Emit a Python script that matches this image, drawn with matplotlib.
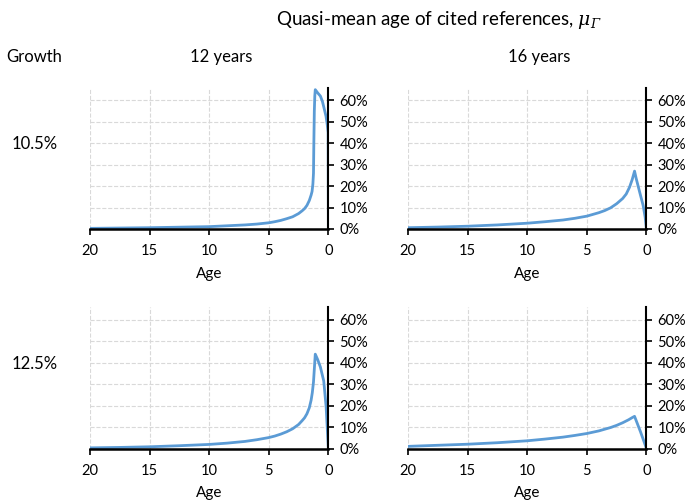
import matplotlib.pyplot as plt
from matplotlib.ticker import FuncFormatter

plt.rcParams['font.family'] = ['Lato', 'DejaVu Sans']
# only the title uses mathtext; make both greek letters italic
plt.rcParams['mathtext.fontset'] = 'custom'
plt.rcParams['mathtext.rm'] = 'DejaVu Serif:italic'
plt.rcParams['mathtext.it'] = 'DejaVu Serif:italic'

# ages (years before citing year) and share of references, in %
ages_12_105 = [20, 15, 10, 8.5, 7, 6, 5, 4.5, 4, 3.5, 3, 2.5, 2.2, 2, 1.8, 1.6, 1.45, 1.37,
               1.3, 1.25, 1.22, 1.18, 1.14, 1.1, 0.9, 0.67, 0.5, 0.39, 0.2, 0.1, 0.02, 0]
vals_12_105 = [0.3, 0.6, 1.1, 1.5, 1.9, 2.3, 2.9, 3.4, 4.0, 4.8, 5.7, 7.2, 8.5, 9.5, 11, 13.3, 15.8, 17.5,
               21, 26, 40, 55, 62, 65, 63.5, 62, 59.5, 57, 52.6, 48.8, 45, 0]

ages_16_105 = [20, 17.5, 15, 12.5, 10, 8.5, 7, 6, 5, 4.5, 4, 3.5, 3, 2.5, 2, 1.7, 1.42, 1.2, 1.0,
               0.86, 0.56, 0.28, 0.11, 0]
vals_16_105 = [0.6, 0.9, 1.3, 1.9, 2.7, 3.4, 4.2, 5.0, 6.0, 6.8, 7.6, 8.6, 9.9, 11.8, 14.2, 16.3, 19.5, 23, 27,
               23.5, 17, 11, 5.5, 0]

ages_12_125 = [20, 17.5, 15, 12.5, 10, 8.5, 7, 6, 5, 4.5, 4, 3.5, 3, 2.5, 2.2, 2, 1.8, 1.6, 1.45,
               1.35, 1.25, 1.18, 1.1, 0.9, 0.67, 0.39, 0.19, 0.08, 0]
vals_12_125 = [0.3, 0.5, 0.8, 1.3, 1.9, 2.5, 3.3, 4.1, 5.1, 5.8, 6.7, 7.8, 9.2, 11.2, 13, 14.3, 16.2, 19, 22.5,
               26, 31, 37, 44, 41.5, 38, 31.5, 19.5, 8, 0]

ages_16_125 = [20, 17.5, 15, 12.5, 10, 8.5, 7, 6, 5, 4, 3, 2.5, 2, 1.5, 1.2, 1.0, 0.5, 0]
vals_16_125 = [1.0, 1.5, 2.0, 2.7, 3.6, 4.4, 5.3, 6.1, 7.0, 8.2, 9.8, 10.8, 12, 13.4, 14.4, 15, 7.8, 0]

columns = ['12 years', '16 years']
growth = ['10.5%', '12.5%']
panels = [[(ages_12_105, vals_12_105), (ages_16_105, vals_16_105)],
          [(ages_12_125, vals_12_125), (ages_16_125, vals_16_125)]]

fig = plt.figure(figsize=(6.87, 5.0), dpi=100)

lefts = [0.131, 0.594]
bottoms = [0.542, 0.103]
w, h = 0.347, 0.283

for r in range(2):
    for c in range(2):
        ax = fig.add_axes([lefts[c], bottoms[r], w, h])
        x, y = panels[r][c]
        ax.plot(x, [v / 100 for v in y], color='#5B9BD5', lw=2)
        ax.set_xlim(20, 0)
        ax.set_ylim(0, 0.66)
        ax.set_xticks([20, 15, 10, 5, 0])
        ax.set_yticks([0, 0.1, 0.2, 0.3, 0.4, 0.5, 0.6])
        ax.yaxis.set_major_formatter(FuncFormatter(lambda v, p: f'{v * 100:.0f}%'))
        ax.yaxis.tick_right()
        ax.grid(True, color='#d9d9d9', ls='--', lw=0.8)
        ax.set_axisbelow(True)
        for s in ['top', 'left']:
            ax.spines[s].set_visible(False)
        ax.spines['right'].set_linewidth(1.5)
        ax.spines['bottom'].set_linewidth(1.8)
        ax.tick_params(axis='both', direction='out', length=4, width=1.2,
                       labelsize=10.5, colors='black')
        ax.tick_params(axis='x', pad=7)
        ax.tick_params(axis='y', pad=4)
        ax.set_xlabel('Age', fontsize=11, labelpad=6)
    fig.text(0.05, bottoms[r] + h * 0.6, growth[r], ha='center', va='center', fontsize=12)

for c in range(2):
    fig.text(lefts[c] + w * 0.55, 0.886, columns[c], ha='center', va='center', fontsize=12)

fig.text(0.05, 0.886, 'Growth', ha='center', va='center', fontsize=12)
fig.text(0.638, 0.96, r'Quasi-mean age of cited references, $\mu_{\Gamma}$',
         ha='center', va='center', fontsize=13.5)

fig.savefig('out.png', dpi=100)
